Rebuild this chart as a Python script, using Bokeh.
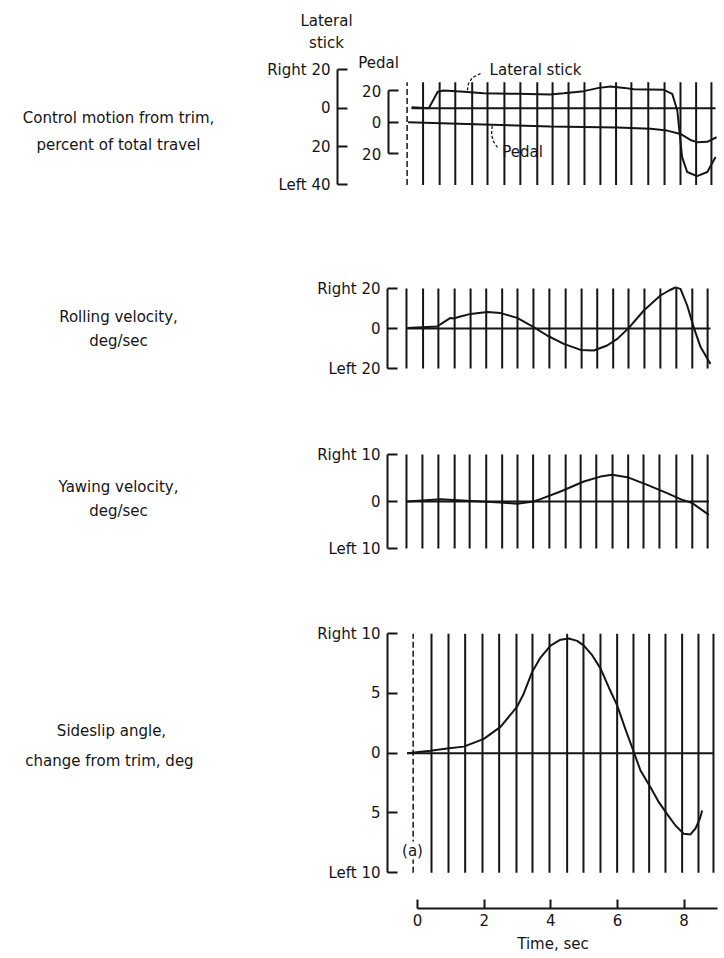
import numpy as np
from bokeh.plotting import figure
from bokeh.models import Range1d, LinearAxis, FixedTicker, Label
from bokeh.layouts import column, row
from bokeh.core.properties import value
from bokeh.embed import file_html
from bokeh.resources import INLINE

# ---------------- data ----------------
# Control motion from trim, percent of total travel
stick_t = [-0.17, 0.37, 0.51, 0.65, 0.84, 1.47, 2.09, 3.14, 4.18, 4.6, 5.23, 5.7, 6.07, 6.5, 6.8,
           7.74, 8.0, 8.16, 8.31, 8.47, 8.78, 9.1, 9.36]
stick_v = [0.5, 0.0, 4.3, 8.6, 9.2, 8.6, 7.8, 7.5, 7.1, 7.8, 8.9, 10.6, 11.3, 10.6, 9.9,
           9.6, 7.5, -1.2, -25.5, -33.3, -35.4, -33.3, -25.5]
pedal_t = [-0.28, 2.09, 4.18, 6.27, 7.32, 7.84, 8.26, 8.57, 8.78, 9.1, 9.39]
pedal_v = [0.0, -1.5, -2.7, -3.4, -4.2, -5.3, -7.4, -11.2, -12.6, -12.4, -9.5]

# Rolling velocity, deg/sec
roll_t = [-0.31, 0.63, 0.84, 1.05, 1.15, 1.36, 1.68, 2.2, 2.62, 3.14, 3.66, 4.08, 4.6, 5.13,
          5.54, 5.96, 6.28, 6.64, 7.11, 7.63, 7.9, 8.1, 8.26, 8.47, 8.68, 8.89, 9.2]
roll_v = [0.3, 1.0, 3.2, 5.3, 5.0, 6.0, 7.3, 8.3, 7.7, 5.3, 0.7, -3.5, -7.7, -10.7,
          -11.0, -8.5, -5.2, 0.3, 9.0, 16.5, 19.0, 20.5, 19.8, 11.5, 0.3, -9.3, -17.7]

# Yawing velocity, deg/sec
yaw_t = [-0.31, 0.74, 1.57, 2.62, 3.14, 3.66, 3.87, 4.5, 5.23, 5.75, 6.12, 6.59, 7.22, 7.84,
         8.26, 8.63, 9.15]
yaw_v = [0.0, 0.5, 0.14, -0.2, -0.5, 0.0, 0.5, 2.13, 4.26, 5.3, 5.67, 5.18, 3.55, 1.77,
         0.5, -0.35, -2.84]

# Sideslip angle, change from trim, deg
slip_t = [-0.31, 0.39, 0.89, 1.39, 1.99, 2.49, 2.99, 3.19, 3.44, 3.69, 3.99, 4.29, 4.54,
          4.79, 4.99, 5.24, 5.49, 5.74, 5.99, 6.24, 6.49, 6.69, 6.99, 7.24, 7.49, 7.74,
          7.99, 8.19, 8.34, 8.47, 8.54]
slip_v = [0.0, 0.2, 0.4, 0.55, 1.2, 2.2, 3.9, 5.0, 6.8, 8.0, 9.0, 9.5, 9.6,
          9.4, 9.0, 8.2, 7.1, 5.5, 4.0, 2.0, 0.1, -1.45, -2.85, -4.1, -5.1, -6.05,
          -6.75, -6.8, -6.3, -5.5, -4.8]

# timing marks on each record, sec
marks_control = [-0.31, 0.19, 0.71, 1.2, 1.73, 2.21, 2.74, 3.24, 3.77, 4.25, 4.75, 5.25,
                 5.75, 6.24, 6.72, 7.25, 7.76, 8.26, 8.75, 9.23]
marks_roll = [-0.33, 0.19, 0.67, 1.18, 1.68, 2.17, 2.67, 3.15, 3.65, 4.15, 4.66, 5.16,
              5.65, 6.15, 6.63, 7.13, 7.63, 8.13, 8.63, 9.11]
marks_yaw = [-0.33, 0.17, 0.67, 1.18, 1.65, 2.17, 2.67, 3.15, 3.64, 4.15, 4.66, 5.13,
             5.62, 6.13, 6.62, 7.1, 7.6, 8.13, 8.63, 9.11]
marks_slip = [-0.13, 0.42, 0.93, 1.43, 1.95, 2.45, 2.97, 3.45, 3.96, 4.49, 4.98, 5.49,
              5.99, 6.48, 6.95, 7.44, 7.94, 8.43, 8.88]

# axis ticks and their labels
stick_ticks = [20, 0, -20, -40]
stick_names = ["Right 20", "0", "20", "Left 40"]
pedal_ticks = [20, 0, -20]
pedal_names = ["20", "0", "20"]
roll_ticks = [20, 0, -20]
roll_names = ["Right 20", "0", "Left 20"]
yaw_ticks = [10, 0, -10]
yaw_names = ["Right 10", "0", "Left 10"]
slip_ticks = [10, 5, 0, -5, -10]
slip_names = ["Right 10", "5", "0", "5", "Left 10"]
time_ticks = [0, 2, 4, 6, 8]

# quantity descriptions shown left of each record
desc_top = ["Control motion from trim,", "percent of total travel"]
desc_rest = ["Rolling velocity,", "deg/sec",
             "Yawing velocity,", "deg/sec",
             "Sideslip angle,", "change from trim, deg"]

# ---------------- styling ----------------
FONT = "DejaVu Sans"
SIZE = "15px"
INK = "#151515"
W, H = 724, 958
HEAD_H = 52          # header strip with the stick scale title
P1_FRAME_B = 188     # bottom of the control-motion frame
P1_BOTTOM = 240      # page y where the control-motion strip ends
DESC_W = 240         # left column holding the descriptions
FRAME_R = 718


def bare(width, height, xr, yr, bottom=0):
    p = figure(width=width, height=height, x_range=xr, y_range=yr, title=None,
               output_backend="svg", toolbar_location=None,
               x_axis_location=None, y_axis_location=None,
               min_border_left=0, min_border_right=0, min_border_top=0,
               min_border_bottom=bottom)
    p.outline_line_color = None
    p.grid.visible = False
    return p


def panel(fig_top, height, frame_top, frame_bottom, frame_left, t0_px, px_per_s,
          zero_px, px_per_unit):
    """Strip-chart panel; frame edges given in page pixels."""
    xr = Range1d((frame_left - t0_px) / px_per_s, (FRAME_R - t0_px) / px_per_s)
    yr = Range1d(-(frame_bottom - zero_px) / px_per_unit, (zero_px - frame_top) / px_per_unit)
    p = figure(width=W - DESC_W, height=height, x_range=xr, y_range=yr, title=None,
               output_backend="svg", toolbar_location=None,
               x_axis_location=None, y_axis_location=None,
               min_border_left=frame_left - DESC_W, min_border_right=W - FRAME_R,
               min_border_top=frame_top - fig_top,
               min_border_bottom=fig_top + height - frame_bottom)
    p.outline_line_color = None
    p.grid.visible = False

    def at(px, py):
        return (px - t0_px) / px_per_s, (zero_px - py) / px_per_unit
    return p, at


def note(p, at, px, py, text, **kw):
    x, y = at(px, py)
    p.add_layout(Label(x=x, y=y, text=text, text_align="center", text_baseline="middle",
                       text_font=FONT, text_font_size=SIZE, text_color=INK, **kw))


def bracket(p, ticks, names, range_name="default", fixed=None):
    ax = LinearAxis(y_range_name=range_name, ticker=FixedTicker(ticks=ticks),
                    bounds=(min(ticks), max(ticks)),
                    major_label_overrides={t: n for t, n in zip(ticks, names)})
    if fixed is not None:
        ax.fixed_location = fixed
    ax.axis_line_width = 2
    ax.axis_line_color = INK
    ax.major_tick_line_width = 2
    ax.major_tick_line_color = INK
    ax.major_tick_in = 10
    ax.major_tick_out = 0
    ax.minor_tick_line_color = None
    ax.major_label_standoff = 7
    ax.major_label_text_font = FONT
    ax.major_label_text_font_size = SIZE
    ax.major_label_text_color = INK
    p.add_layout(ax, "left")
    return ax


def timing(p, marks, lo, hi, dashed_first=False):
    first = 1 if dashed_first else 0
    p.segment(x0=marks[first:], y0=lo, x1=marks[first:], y1=hi,
              line_color=INK, line_width=2)
    if dashed_first:
        p.segment(x0=marks[:1], y0=lo, x1=marks[:1], y1=hi,
                  line_color=INK, line_width=1.5, line_dash="6 3")


def trace(p, t, v, range_name="default"):
    p.line(t, v, line_color=INK, line_width=2, y_range_name=range_name)


def zero_line(p, t0, t1):
    p.line([t0, t1], [0, 0], line_color=INK, line_width=2)


def words(p, xs, ys, texts):
    p.text(x=xs, y=ys, text=texts, text_font=value(FONT), text_font_size=SIZE,
           text_color=INK, text_align="center", text_baseline="middle")


# ---- header: stick scale title ----
head = bare(W, HEAD_H, Range1d(0, W), Range1d(HEAD_H, 0))
words(head, [326, 326], [20, 42], ["Lateral", "stick"])

# ---- left column: descriptions (page-pixel coordinates) ----
desc1 = bare(DESC_W, P1_BOTTOM - HEAD_H, Range1d(0, DESC_W), Range1d(P1_FRAME_B, HEAD_H),
             bottom=P1_BOTTOM - P1_FRAME_B)
words(desc1, [118, 118], [117, 144], desc_top)
desc2 = bare(DESC_W, H - P1_BOTTOM, Range1d(0, DESC_W), Range1d(H, P1_BOTTOM))
words(desc2, [118, 118, 118, 118, 111, 109], [316, 340, 486, 510, 730, 760], desc_rest)

# ---- control motion ----
p1, at1 = panel(HEAD_H, P1_BOTTOM - HEAD_H, HEAD_H, P1_FRAME_B, 337, 416.5, 31.9, 107.7, 1.917)
p1.extra_y_ranges = {"pedal": Range1d(-(P1_FRAME_B - 121.7) / 1.585, (121.7 - HEAD_H) / 1.585)}
bracket(p1, stick_ticks, stick_names)
bracket(p1, pedal_ticks, pedal_names, range_name="pedal", fixed=at1(387.7, 0)[0])
timing(p1, marks_control, -40, 13.5, dashed_first=True)
zero_line(p1, stick_t[0], stick_t[-1])
trace(p1, stick_t, stick_v)
trace(p1, pedal_t, pedal_v, range_name="pedal")

# dashed leaders from the trace names to their traces
t_stick = 1.57
sv = float(np.interp(t_stick, stick_t, stick_v))
lead_px = [480, 472, 468, t_stick * 31.9 + 416.5]
lead_py = [73, 77, 83, 107.7 - sv * 1.917]
p1.line([at1(a, b)[0] for a, b in zip(lead_px, lead_py)],
        [at1(a, b)[1] for a, b in zip(lead_px, lead_py)],
        line_color=INK, line_width=1.3, line_dash="3 2")
t_pedal = 2.36
pv = float(np.interp(t_pedal, pedal_t, pedal_v))
lead_px = [497, 493, 491, t_pedal * 31.9 + 416.5]
lead_py = [147, 141, 134, 121.7 - pv * 1.585]
p1.line([at1(a, b)[0] for a, b in zip(lead_px, lead_py)],
        [at1(a, b)[1] for a, b in zip(lead_px, lead_py)],
        line_color=INK, line_width=1.3, line_dash="3 2")

note(p1, at1, 378, 62, "Pedal")
note(p1, at1, 535, 69, "Lateral stick")
note(p1, at1, 522, 151, "Pedal")

# ---- rolling velocity ----
p2, at2 = panel(240, 180, 283, 372, 387, 416.5, 31.9, 328.0, 2.0)
bracket(p2, roll_ticks, roll_names)
timing(p2, marks_roll, -20, 20)
zero_line(p2, roll_t[0], roll_t[-1])
trace(p2, roll_t, roll_v)

# ---- yawing velocity ----
p3, at3 = panel(420, 170, 449, 550, 387, 416.5, 31.9, 501.0, 4.7)
bracket(p3, yaw_ticks, yaw_names)
timing(p3, marks_yaw, -10, 10)
zero_line(p3, yaw_t[0], yaw_t[-1])
trace(p3, yaw_t, yaw_v)

# ---- sideslip angle ----
p4, at4 = panel(590, 368, 628, 908, 387, 417.0, 33.33, 752.7, 11.95)
bracket(p4, slip_ticks, slip_names)
timing(p4, marks_slip, -10, 10, dashed_first=True)
zero_line(p4, slip_t[0], marks_slip[-1])
trace(p4, slip_t, slip_v)
note(p4, at4, 412, 850, "(a)", background_fill_color="white")

xa = LinearAxis(ticker=FixedTicker(ticks=time_ticks), bounds=(0, 9), axis_label="Time, sec")
xa.axis_line_width = 2
xa.axis_line_color = INK
xa.major_tick_line_width = 2
xa.major_tick_line_color = INK
xa.major_tick_in = 9
xa.major_tick_out = 0
xa.minor_tick_line_color = None
xa.major_label_standoff = 5
xa.major_label_text_font = FONT
xa.major_label_text_font_size = SIZE
xa.major_label_text_color = INK
xa.axis_label_standoff = 6
xa.axis_label_text_font = FONT
xa.axis_label_text_font_size = SIZE
xa.axis_label_text_font_style = "normal"
xa.axis_label_text_color = INK
p4.add_layout(xa, "below")

layout = column(head,
                row(desc1, p1, spacing=0),
                row(desc2, column(p2, p3, p4, spacing=0), spacing=0),
                spacing=0)
open("out.html", "w").write(file_html(layout, INLINE))
